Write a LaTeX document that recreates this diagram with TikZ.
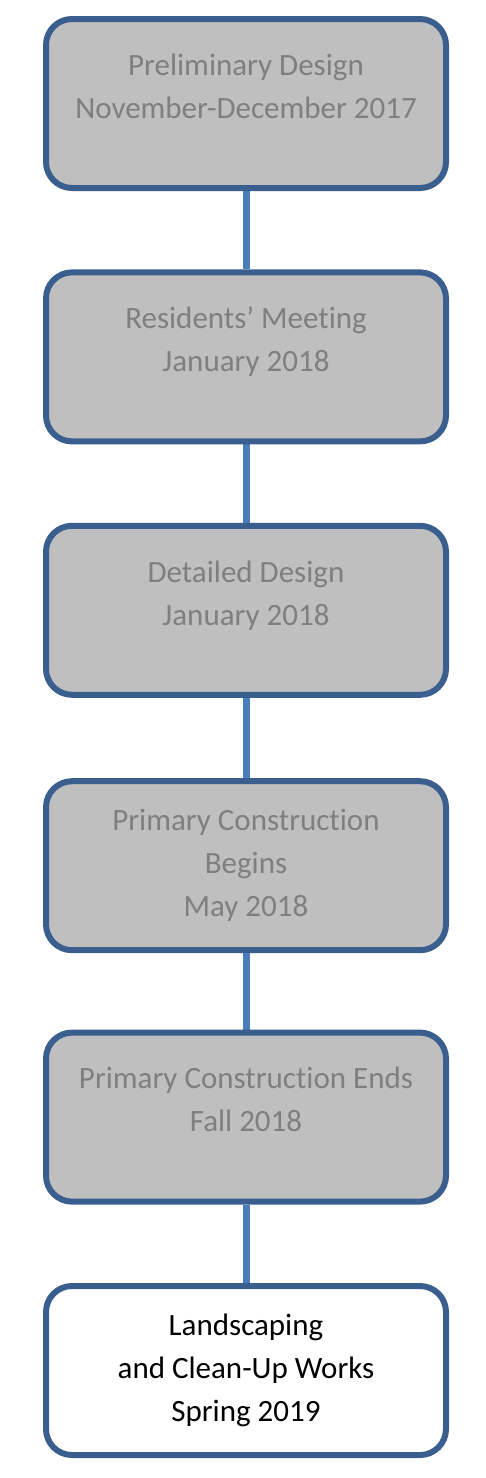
\documentclass[tikz,border=0pt]{standalone}
\usepackage{fontspec}
\setmainfont{Carlito}[Ligatures={NoCommon},Contextuals={NoAlternate}]
\usetikzlibrary{backgrounds}
\definecolor{boxline}{HTML}{3A5F8E}
\definecolor{connline}{HTML}{4A7EBB}
\definecolor{boxfill}{HTML}{BFBFBF}
\definecolor{boxtext}{HTML}{7F7F7F}
\tikzset{
  stepbox/.style={draw=boxline, line width=6pt, rounded corners=26pt,
    minimum width=400pt, minimum height=169pt, inner sep=0pt,
    align=center, font=\fontsize{31}{43}\selectfont},
  graybox/.style={stepbox, fill=boxfill, text=boxtext},
  whitebox/.style={stepbox, fill=white, text=black},
  conn/.style={draw=connline, line width=7pt}
}
\begin{document}
\begin{tikzpicture}[x=1pt,y=-1pt]
\useasboundingbox (0,0) rectangle (486,1478);
\node[graybox] (b1) at (246,103.5) {Preliminary Design\\November-December 2017\\[-8pt]\mbox{}};
\node[graybox] (b2) at (246,356.9) {Residents’ Meeting\\January 2018\\[-8pt]\mbox{}};
\node[graybox] (b3) at (246,610.3) {Detailed Design\\January 2018\\[-8pt]\mbox{}};
\node[graybox] (b4) at (246,865.7) {Primary Construction\\Begins\\May 2018};
\node[graybox] (b5) at (246,1117.1) {Primary Construction Ends\\Fall 2018\\[-8pt]\mbox{}};
\node[whitebox] (b6) at (246,1370.5) {Landscaping\\and Clean-Up Works\\Spring 2019};
\begin{pgfonlayer}{background}
\fill[white] (0,0) rectangle (486,1478);
\draw[conn] (b1.south) -- (b2.north);
\draw[conn] (b2.south) -- (b3.north);
\draw[conn] (b3.south) -- (b4.north);
\draw[conn] (b4.south) -- (b5.north);
\draw[conn] (b5.south) -- (b6.north);
\end{pgfonlayer}
\end{tikzpicture}
\end{document}
